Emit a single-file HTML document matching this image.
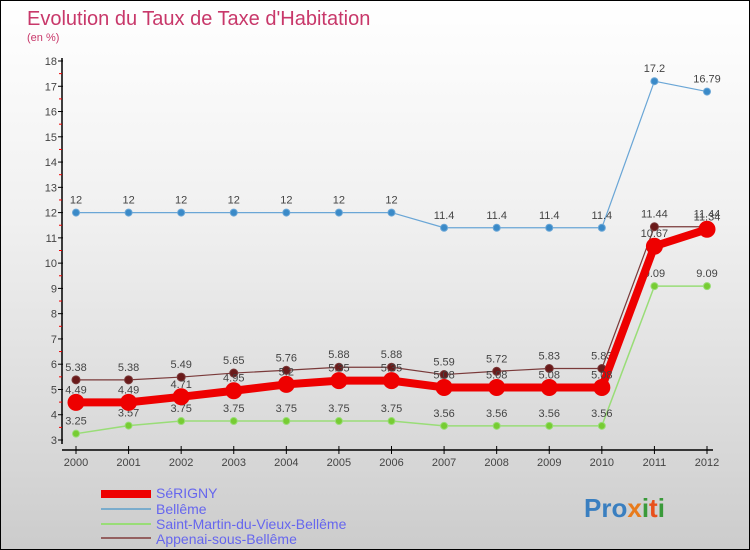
<!DOCTYPE html>
<html><head><meta charset="utf-8"><style>
body{margin:0}
#c{width:750px;height:550px;position:relative;box-sizing:border-box;border:1px solid #000;background:linear-gradient(#ffffff 0%,#f0f0f0 40%,#d6d6d6 85%,#cccccc 100%);font-family:"Liberation Sans",sans-serif;overflow:hidden}
svg text{font-family:"Liberation Sans",sans-serif}
</style></head><body>
<div id="c">
<svg id="s" width="750" height="550">
<text x="26" y="24" font-size="20" fill="#c8386a">Evolution du Taux de Taxe d'Habitation</text>
<text x="26" y="40" font-size="11" fill="#c8386a">(en %)</text>
<g id="axes"></g><g id="series"></g>
<g>
<rect x="100" y="489" width="50" height="8" fill="#e00"/>
<text x="155" y="497" font-size="14" fill="#6666ee">SéRIGNY</text>
<line x1="100" y1="508" x2="150" y2="508" stroke="#7aaccc" stroke-width="2"/>
<text x="155" y="513" font-size="14" fill="#6666ee">Bellême</text>
<line x1="100" y1="523" x2="150" y2="523" stroke="#99dd77" stroke-width="2"/>
<text x="155" y="528" font-size="14" fill="#6666ee">Saint-Martin-du-Vieux-Bellême</text>
<line x1="100" y1="537" x2="150" y2="537" stroke="#946060" stroke-width="2"/>
<text x="155" y="543" font-size="14" fill="#6666ee">Appenai-sous-Bellême</text>
</g>
<g font-size="26" font-weight="bold">
<text x="583" y="516"><tspan fill="#3a7fc0">Pro</tspan><tspan fill="#e87b1c">x</tspan><tspan fill="#3a9a3a">i</tspan><tspan fill="#e8501c">t</tspan><tspan fill="#3a9a3a">i</tspan></text>
</g>
</svg></div>
<script>
const years=[2000,2001,2002,2003,2004,2005,2006,2007,2008,2009,2010,2011,2012];
const serigny=[4.49,4.49,4.71,4.95,5.2,5.35,5.35,5.08,5.08,5.08,5.08,10.67,11.34];
const belleme=[12,12,12,12,12,12,12,11.4,11.4,11.4,11.4,17.2,16.79];
const stMartin=[3.25,3.57,3.75,3.75,3.75,3.75,3.75,3.56,3.56,3.56,3.56,9.09,9.09];
const appenai=[5.38,5.38,5.49,5.65,5.76,5.88,5.88,5.59,5.72,5.83,5.83,11.44,11.44];
const yTicks=[3,4,5,6,7,8,9,10,11,12,13,14,15,16,17,18];
const NS="http://www.w3.org/2000/svg";
const X=i=>75+i*(706-75)/12;
const Y=v=>439-(v-3)*(379/15);
function mk(t,a,p){const e=document.createElementNS(NS,t);for(const k in a)e.setAttribute(k,a[k]);p.appendChild(e);return e;}
const ax=document.getElementById('axes');
let l=mk('line',{x1:61,y1:57,x2:61,y2:443,stroke:'#000','stroke-width':1.5},ax);


l=mk('line',{x1:61,y1:449,x2:712,y2:449,stroke:'#000','stroke-width':1.5},ax);


yTicks.forEach(v=>{
 mk('line',{x1:57,y1:Y(v),x2:62,y2:Y(v),stroke:'#000'},ax);
 if(v<18)mk('line',{x1:58,y1:Y(v+0.5),x2:61,y2:Y(v+0.5),stroke:'#e00'},ax);
 const t=mk('text',{x:56,y:Y(v)+4,'font-size':11,fill:'#444','text-anchor':'end'},ax);t.textContent=v;
 
 
});
years.forEach((yr,i)=>{
 mk('line',{x1:X(i),y1:445,x2:X(i),y2:453,stroke:'#000'},ax);
 const t=mk('text',{x:X(i),y:465,'font-size':11,fill:'#444','text-anchor':'middle'},ax);t.textContent=yr;
 
 
});
const sg=document.getElementById('series');
function draw(data,name,color,w,r,dot){
 const g=mk('g',{},sg);
 
 
 mk('polyline',{points:data.map((v,i)=>X(i)+','+Y(v)).join(' '),fill:'none',stroke:color,'stroke-width':w,'stroke-linejoin':'round'},g);
 data.forEach((v,i)=>{
  const c=mk('circle',{cx:X(i),cy:Y(v),r:r,fill:dot,stroke:color,'stroke-width':1},g);
  
  
  const t=mk('text',{x:X(i),y:Y(v)-9,'font-size':11,fill:'#444','text-anchor':'middle'},g);t.textContent=v;
 });
}
draw(stMartin,'saint-martin','#99dd77',1.5,3.5,'#77cc33');
draw(belleme,'belleme','#6aa6d6',1.2,3.5,'#3a8ac8');
draw(appenai,'appenai','#7a3a3a',1.2,4,'#6a1a1a');
draw(serigny,'serigny','#ee0000',8,8,'#ee0000');
</script>
</body></html>
